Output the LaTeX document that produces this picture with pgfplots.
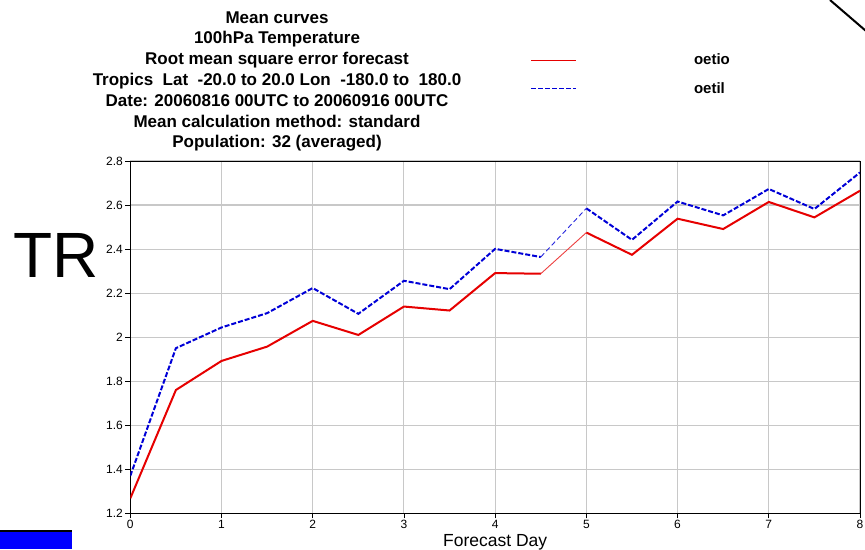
\documentclass[border=0pt]{standalone}
\usepackage{pgfplots}
\pgfplotsset{compat=1.18}
\usepackage{fontspec}
\setmainfont{Liberation Sans}

\definecolor{rmsred}{RGB}{230,0,0}
\definecolor{rmsblue}{RGB}{0,0,215}
\definecolor{gridgray}{RGB}{200,200,200}

% RMSE of 100hPa temperature, every half day of the forecast
\pgfplotstableread{
day  oetio oetil
0.0  1.268 1.370
0.5  1.760 1.950
1.0  1.892 2.044
1.5  1.957 2.109
2.0  2.074 2.223
2.5  2.010 2.106
3.0  2.139 2.256
3.5  2.121 2.218
4.0  2.291 2.401
4.5  2.288 2.364
}\firstpart
\pgfplotstableread{
day  oetio oetil
4.5  2.288 2.364
5.0  2.475 2.585
}\gappart
\pgfplotstableread{
day  oetio oetil
5.0  2.475 2.585
5.5  2.374 2.442
6.0  2.538 2.616
6.5  2.491 2.553
7.0  2.614 2.673
7.5  2.544 2.582
8.0  2.665 2.748
}\secondpart

\begin{document}
\begin{tikzpicture}
\useasboundingbox (0,0) rectangle (865pt,-549pt);

\begin{axis}[
  at={(130.3pt,-513.3pt)}, anchor=south west,
  scale only axis, width=729.7pt, height=352.3pt,
  xmin=0, xmax=8, ymin=1.2, ymax=2.8,
  xtick={0,1,2,3,4,5,6,7,8},
  ytick={1.2,1.4,1.6,1.8,2.0,2.2,2.4,2.6,2.8},
  grid=major,
  grid style={color=gridgray, line width=1.1pt},
  axis line style={black, line width=1pt},
  tick align=outside, tick pos=left,
  major tick length=5pt,
  tick style={black, line width=0.8pt},
  /pgf/number format/assume math mode=true,
  ticklabel style={font=\fontsize{12}{13}\selectfont},
  yticklabel style={/pgf/number format/fixed, /pgf/number format/precision=1, xshift=1pt},
  xticklabel style={yshift=2pt},
  xlabel={Forecast Day},
  xlabel style={font=\fontsize{17.5}{20}\selectfont, yshift=1pt},
  legend style={at={(axis description cs:0.548,1.307)}, anchor=north west, draw=none, fill=none,
    font=\bfseries\fontsize{15}{17}\selectfont, row sep=14pt, inner sep=0pt,
    nodes={inner sep=1pt}},
  legend cell align=left,
  legend image code/.code={%
    \draw[#1, line width=1.3pt] (0pt,0pt) -- (45pt,0pt);
    \path[draw=none] (0pt,0pt) -- (162pt,0pt);},
]
\addplot[rmsred, line width=2pt] table[x=day, y=oetio] {\firstpart};
\addlegendentry{oetio}
\addplot[rmsblue, line width=2pt, dash pattern=on 5pt off 2pt] table[x=day, y=oetil] {\firstpart};
\addlegendentry{oetil}
\addplot[rmsred!75, line width=0.9pt, forget plot] table[x=day, y=oetio] {\gappart};
\addplot[rmsblue!85, line width=0.9pt, dash pattern=on 5pt off 3pt, forget plot] table[x=day, y=oetil] {\gappart};
\addplot[rmsred, line width=2pt, forget plot] table[x=day, y=oetio] {\secondpart};
\addplot[rmsblue, line width=2pt, dash pattern=on 5pt off 2pt, forget plot] table[x=day, y=oetil] {\secondpart};
\end{axis}

% heading block
\node[align=center, font=\bfseries\fontsize{17}{20.8}\selectfont] at (277pt,-81.5pt)
  {Mean curves\\
   100hPa Temperature\\
   Root mean square error forecast\\
   Tropics~ Lat~ -20.0 to 20.0 Lon~ -180.0 to~ 180.0\\
   Date: 20060816 00UTC to 20060916 00UTC\\
   Mean calculation method: standard\\
   Population: 32 (averaged)};

% region tag
\node[font=\fontsize{64}{64}\selectfont, anchor=center] at (56pt,-255pt) {TR};

% page decorations
\fill[blue] (0pt,-531pt) rectangle (72pt,-549pt);
\draw[black, line width=2pt] (0pt,-531pt) -- (72pt,-531pt);
\draw[black, line width=2pt] (830pt,0pt) -- (866pt,-31pt);
\end{tikzpicture}
\end{document}
